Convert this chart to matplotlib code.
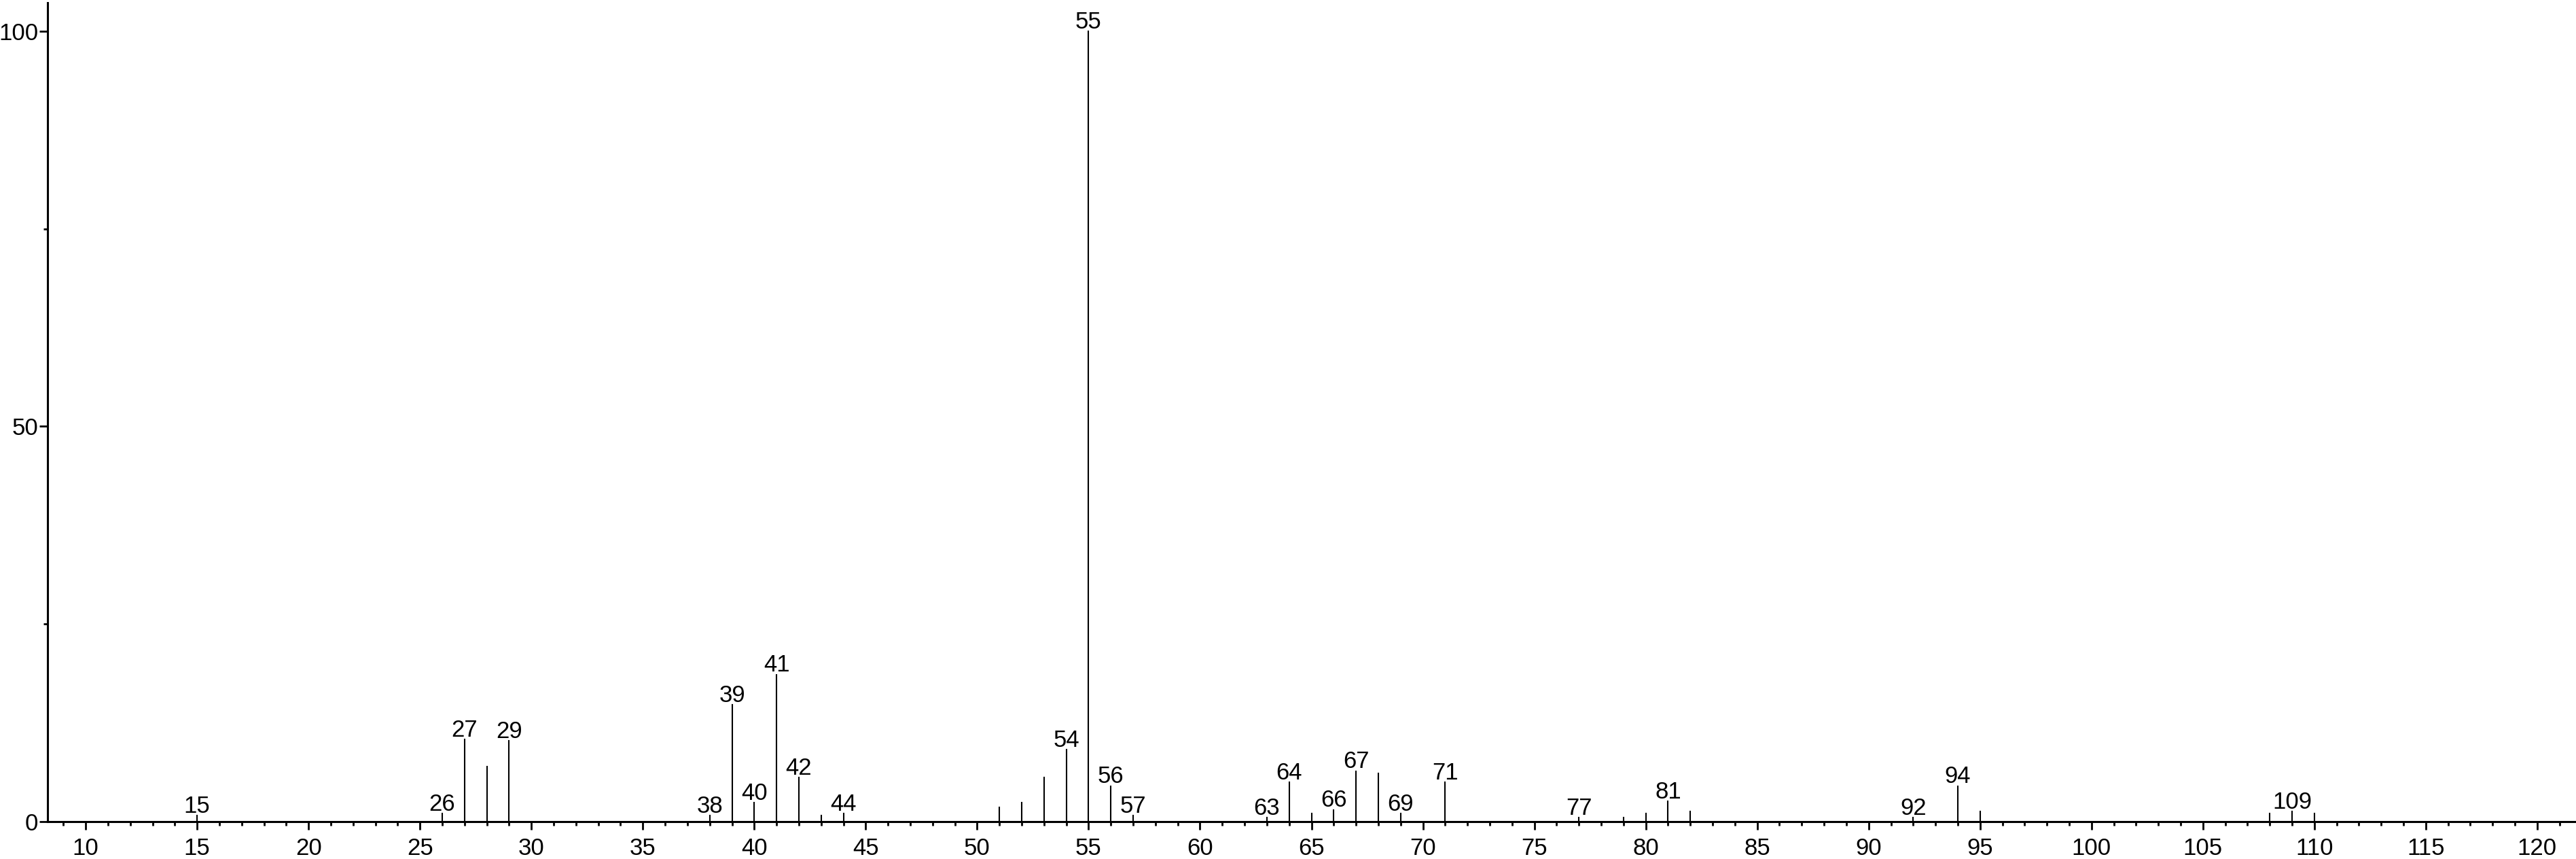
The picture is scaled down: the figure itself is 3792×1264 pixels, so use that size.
import matplotlib.pyplot as plt
from matplotlib.ticker import MultipleLocator

plt.rcParams['font.family'] = ['Liberation Sans', 'DejaVu Sans']

# m/z and relative intensity
mz = [15, 26, 27, 28, 29, 38, 39, 40, 41, 42, 43, 44,
      51, 52, 53, 54, 55, 56, 57, 63, 64, 65, 66, 67, 68, 69, 71,
      77, 79, 80, 81, 82, 92, 94, 95, 108, 109, 110]
intensity = [0.75, 1.0, 10.4, 7.0, 10.2, 0.8, 14.8, 2.4, 18.6, 5.6, 0.75, 1.0,
             1.8, 2.4, 5.6, 9.1, 100.0, 4.5, 0.75, 0.5, 5.0, 1.0, 1.5, 6.4, 6.1, 1.0, 5.0,
             0.5, 0.5, 1.0, 2.6, 1.3, 0.5, 4.5, 1.3, 1.0, 1.3, 1.0]
labelled = [15, 26, 27, 29, 38, 39, 40, 41, 42, 44, 54, 55, 56, 57, 63, 64,
            66, 67, 69, 71, 77, 81, 92, 94, 109]

W, H = 3792, 1264
fig = plt.figure(figsize=(W / 100, H / 100), dpi=100)
ax = fig.add_axes([70 / W, 55 / H, (W - 70) / W, (1209 - 4) / H])

ax.vlines(mz, 0, intensity, colors='black', linewidth=1.5, capstyle='projecting')

for m, v in zip(mz, intensity):
    if m in labelled:
        ax.annotate(str(m), (m, v), xytext=(0, 3), textcoords='offset points',
                    ha='center', va='baseline', fontsize=25)

ax.set_xlim(8.29, 121.74)
ax.set_ylim(0, 103.6)

ax.xaxis.set_major_locator(MultipleLocator(5))
ax.xaxis.set_minor_locator(MultipleLocator(1))
ax.set_yticks([0, 50, 100])
ax.set_yticks([25, 75], minor=True)

for s in ['top', 'right']:
    ax.spines[s].set_visible(False)
for s in ['left', 'bottom']:
    ax.spines[s].set_linewidth(2.2)
ax.spines['bottom'].set_clip_on(False)

ax.tick_params(axis='x', which='major', length=8.5, width=2, labelsize=25, pad=8)
ax.tick_params(axis='x', which='minor', length=4.5, width=2)
ax.tick_params(axis='y', which='major', length=9, width=2, labelsize=25, pad=1)
ax.tick_params(axis='y', which='minor', length=4.5, width=2)

fig.savefig('out.png', dpi=100)
